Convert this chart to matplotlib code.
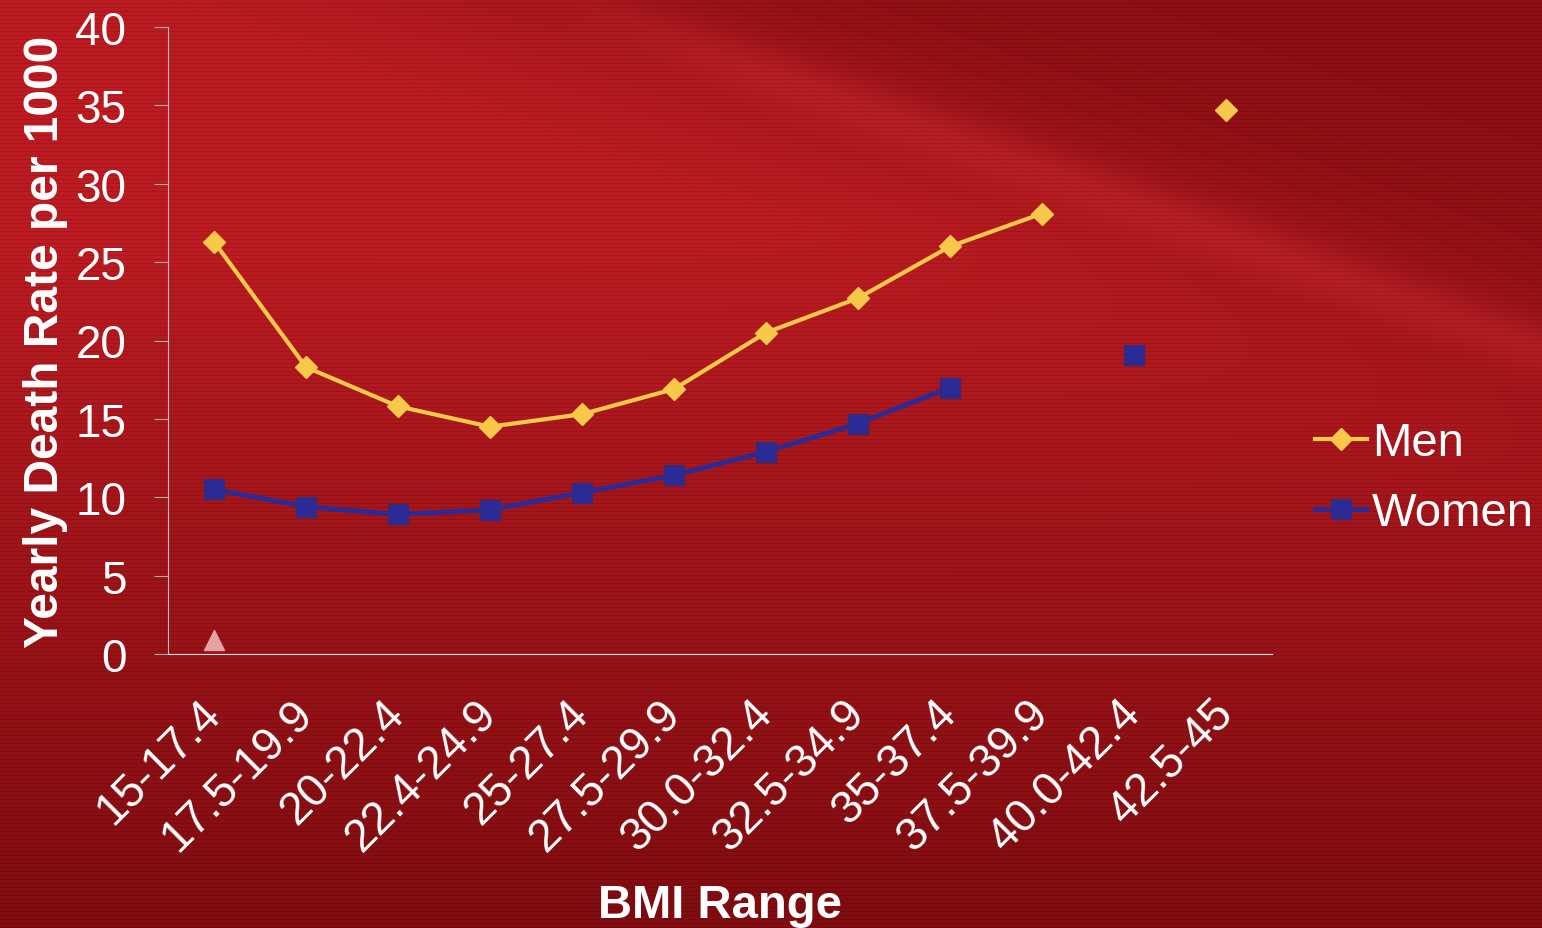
import numpy as np
import matplotlib
matplotlib.use("Agg")
import matplotlib.pyplot as plt
import matplotlib.transforms as mtransforms

plt.rcParams["font.family"] = ["Liberation Sans", "DejaVu Sans"]

# ---------------------------------------------------------------------------
# Data
# ---------------------------------------------------------------------------
bmi_ranges = ["15-17.4", "17.5-19.9", "20-22.4", "22.4-24.9", "25-27.4",
              "27.5-29.9", "30.0-32.4", "32.5-34.9", "35-37.4", "37.5-39.9",
              "40.0-42.4", "42.5-45"]
men = [26.3, 18.3, 15.8, 14.5, 15.3, 16.9, 20.5, 22.7, 26.0, 28.1, np.nan, 34.7]
women = [10.5, 9.4, 8.9, 9.2, 10.3, 11.4, 12.9, 14.7, 17.0, np.nan, 19.1, np.nan]
other = [0.9] + [np.nan] * 11

W, H = 1542, 929
fig = plt.figure(figsize=(W / 100, H / 100), dpi=100)

# --- background: red slide with a soft diagonal streak and fine stripes ---
yy, xx = np.mgrid[0:H, 0:W].astype(float)
bright = np.array([190, 28, 34]) / 255
dark = np.array([126, 11, 15]) / 255
line_y = (xx - 555) * 0.355
above = 1 / (1 + np.exp(-(line_y - yy) / 50))          # upper-right of streak
w = (1 - 0.75 * above) * np.clip(1 - (yy - 230) / 720, 0.05, 1)
img = dark[None, None, :] * (1 - w[..., None]) + bright[None, None, :] * w[..., None]
streak = np.exp(-((yy - line_y) / 28) ** 2) * np.clip((xx - 480) / 300, 0, 1) * 0.07
img = img + streak[..., None] * np.array([1.0, 0.5, 0.55])
stripe = np.where((np.arange(H) % 4) < 1, 0.88, 1.0)
img = np.clip(img * stripe[:, None, None], 0, 1)
bg = fig.add_axes([0, 0, 1, 1])
bg.imshow(img, aspect="auto", interpolation="nearest")
bg.axis("off")

ax = fig.add_axes([168 / W, 1 - 655 / H, (1272 - 168) / W, (655 - 28) / H])
ax.patch.set_alpha(0)
x = np.arange(len(bmi_ranges))

ax.plot(x, men, color="#F8C84A", lw=3, marker="D", ms=11, mec="#F8C84A",
        label="Men", zorder=3)
ax.plot(x, women, color="#2B2B98", lw=3.5, marker="s", ms=15, mec="#3a2a70",
        mew=1, label="Women", zorder=3)
ax.plot(x, other, ls="none", marker="^", ms=14, color="#E6A3A6", zorder=3)

ax.set_xlim(-0.5, len(bmi_ranges) - 0.5)
ax.set_ylim(0, 40)
ax.set_yticks(range(0, 41, 5))
ax.set_xticks(x)
ax.set_xticklabels(bmi_ranges, rotation=45, ha="right", va="center",
                   rotation_mode="anchor")
offset = mtransforms.ScaledTranslation(11 / 100, 0, fig.dpi_scale_trans)
for lab in ax.get_xticklabels():
    lab.set_transform(lab.get_transform() + offset)

for side in ["top", "right"]:
    ax.spines[side].set_visible(False)
ax.spines["left"].set_color("#bfbfbf")
ax.spines["bottom"].set_color("#e0e0e0")
ax.tick_params(axis="y", length=10, color="#a8a8a8", labelsize=33,
               labelcolor="white", pad=20)
ax.tick_params(axis="x", length=0, labelsize=33, labelcolor="white", pad=38)

ax.set_ylabel("Yearly Death Rate per 1000", fontsize=34.5, fontweight="bold",
              color="white", labelpad=5)
ax.set_xlabel("BMI Range", fontsize=34, fontweight="bold", color="white",
              labelpad=17)

leg = ax.legend(loc="center left", bbox_to_anchor=(1.022, 0.28), frameon=False,
                fontsize=34, handlelength=1.1, handletextpad=0.1,
                labelspacing=0.55, borderaxespad=0)
for t in leg.get_texts():
    t.set_color("white")

fig.savefig("out.png", dpi=100)
